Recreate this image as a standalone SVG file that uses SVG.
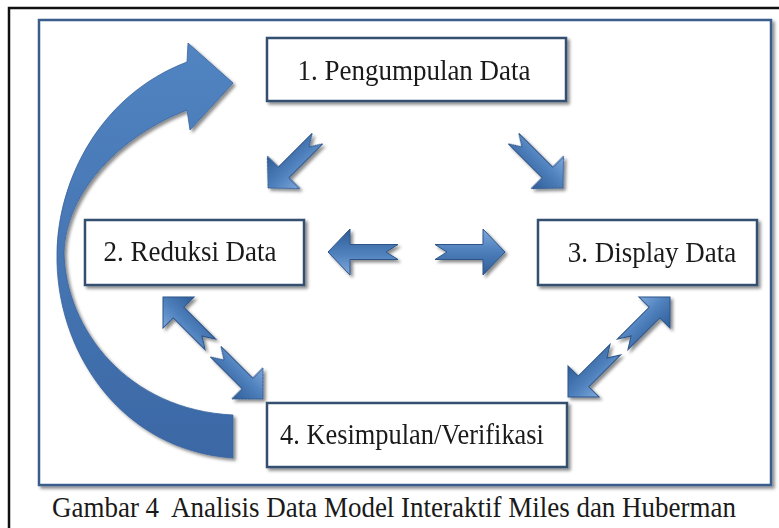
<svg xmlns="http://www.w3.org/2000/svg" xmlns:xlink="http://www.w3.org/1999/xlink" width="779" height="528" viewBox="0 0 779 528">
  <defs>
    <style>
      .box { fill: #ffffff; stroke: #34506f; stroke-width: 2.5; }
      .lbl { font-family: "Liberation Serif", "Times New Roman", serif; font-size: 30px; fill: #1a1a1a; text-anchor: middle; }
      .cap { font-family: "Liberation Serif", "Times New Roman", serif; font-size: 30.5px; fill: #1a1a1a; white-space: pre; }
      .arr { fill: url(#arrGrad); stroke: #2d5588; stroke-width: 1; stroke-linejoin: miter; }
    </style>
    <linearGradient id="arrGrad" x1="0" y1="0" x2="0" y2="1">
      <stop offset="0" stop-color="#7fa8dc"/>
      <stop offset="0.45" stop-color="#4f81bd"/>
      <stop offset="1" stop-color="#2f5d98"/>
    </linearGradient>
    <linearGradient id="curveGrad" x1="0" y1="0" x2="0" y2="1">
      <stop offset="0" stop-color="#5284c2"/>
      <stop offset="1" stop-color="#3b68a5"/>
    </linearGradient>
    <filter id="shadow" x="-20%" y="-20%" width="140%" height="140%">
      <feDropShadow dx="2.5" dy="2.5" stdDeviation="1.8" flood-color="#000000" flood-opacity="0.45"/>
    </filter>
    <path id="arrow" d="M0,-7.5 L48,-7.5 L48,-23 L70,0 L48,23 L48,7.5 L0,7.5 L12,0 Z"/>
    <path id="arrowS" d="M0,-7.5 L45,-7.5 L45,-22 L67,0 L45,22 L45,7.5 L0,7.5 L12,0 Z"/>
  </defs>

  <rect x="0" y="0" width="779" height="528" fill="#ffffff"/>
  <!-- outer black frame -->
  <rect x="9" y="8" width="900" height="600" fill="none" stroke="#111111" stroke-width="2.5"/>
  <!-- inner blue frame -->
  <rect x="39" y="20" width="732" height="465" fill="#ffffff" stroke="#3a5d8c" stroke-width="2.5" filter="url(#shadow)"/>

  <g id="connectors" filter="url(#shadow)">
    <!-- feedback curved arrow 4 -> 1 -->
    <path id="curved-arrow" d="M233,415 L233,458 C120,450 55,350 57,253 C58,180 100,95 187,62 L188,43 L233,83 L190,130 L187,110 C122,135 66,190 64,253 C66,330 128,410 233,415 Z" fill="url(#curveGrad)" stroke="#3a659f" stroke-width="0.8"/>
    <!-- 1 -> 2 -->
    <use xlink:href="#arrow" class="arr" transform="translate(268,188) rotate(135) translate(-70,0)"/>
    <!-- 1 -> 3 -->
    <use xlink:href="#arrow" class="arr" transform="translate(563,188) rotate(45) translate(-70,0)"/>
    <!-- towards 2 -->
    <use xlink:href="#arrow" class="arr" transform="translate(328,252) rotate(180) translate(-70,0)"/>
    <!-- towards 3 -->
    <use xlink:href="#arrow" class="arr" transform="translate(505,252) translate(-70,0)"/>
    <!-- 2 <-> 4 -->
    <use xlink:href="#arrowS" class="arr" transform="translate(163,297) rotate(225) translate(-67,0)"/>
    <use xlink:href="#arrowS" class="arr" transform="translate(263,399) rotate(45) translate(-67,0)"/>
    <!-- 3 <-> 4 -->
    <use xlink:href="#arrowS" class="arr" transform="translate(670,297) rotate(-45) translate(-67,0)"/>
    <use xlink:href="#arrowS" class="arr" transform="translate(568,397) rotate(135) translate(-67,0)"/>
  </g>

  <g id="node-1">
    <rect class="box" x="267" y="38" width="299" height="63" filter="url(#shadow)"/>
    <text class="lbl" transform="translate(414,80) scale(0.9,1)">1. Pengumpulan Data</text>
  </g>
  <g id="node-2">
    <rect class="box" x="85" y="220" width="219" height="65" filter="url(#shadow)"/>
    <text class="lbl" transform="translate(190,261) scale(0.9,1)">2. Reduksi Data</text>
  </g>
  <g id="node-3">
    <rect class="box" x="538" y="220" width="219" height="65" filter="url(#shadow)"/>
    <text class="lbl" transform="translate(652,262) scale(0.9,1)">3. Display Data</text>
  </g>
  <g id="node-4">
    <rect class="box" x="267" y="403" width="300" height="64" filter="url(#shadow)"/>
    <text class="lbl" transform="translate(412,444) scale(0.88,1)">4. Kesimpulan/Verifikasi</text>
  </g>

  <text class="cap" transform="translate(52,517) scale(0.885,1)">Gambar 4  Analisis Data Model Interaktif Miles dan Huberman</text>
</svg>
